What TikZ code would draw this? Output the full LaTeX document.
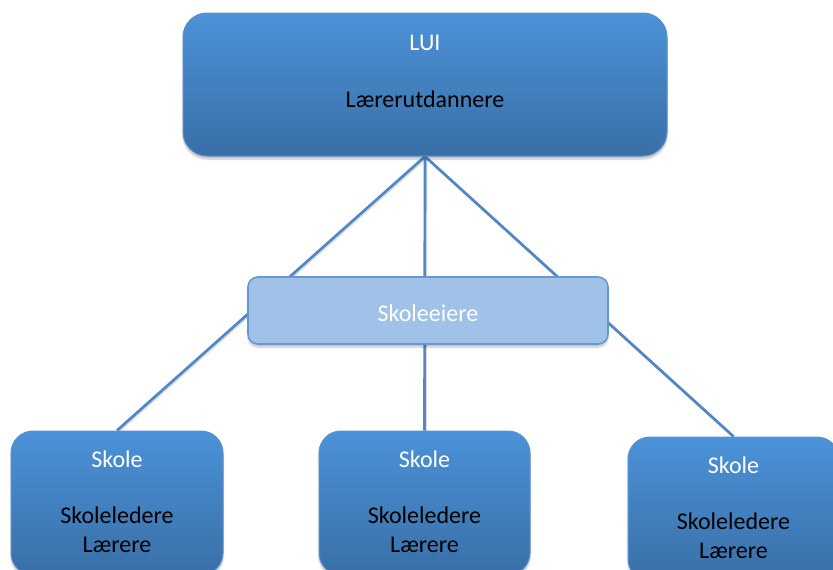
\documentclass[tikz,border=0pt]{standalone}
\usepackage{fontspec}
\setmainfont{Carlito}
\usetikzlibrary{backgrounds,shadows.blur}

\definecolor{boxtop}{RGB}{75,146,216}
\definecolor{boxbot}{RGB}{57,111,167}
\definecolor{boxline}{RGB}{92,144,204}
\definecolor{ownerfill}{RGB}{160,194,233}
\definecolor{ownerline}{RGB}{104,152,208}
\definecolor{linkcol}{RGB}{80,135,198}

\tikzset{
  bluebox/.style={shade, top color=boxtop, bottom color=boxbot,
    draw=boxline, line width=1pt, inner sep=0pt,
    blur shadow={shadow xshift=0pt, shadow yshift=-3pt, shadow blur steps=6, shadow opacity=25}},
  ownerbox/.style={fill=ownerfill, draw=ownerline, line width=1.6pt,
    rounded corners=10pt, inner sep=0pt,
    blur shadow={shadow xshift=0pt, shadow yshift=-3pt, shadow blur steps=6, shadow opacity=25}},
  label/.style={anchor=base, inner sep=0pt, font=\fontsize{24}{28.5}\selectfont, align=center},
  link/.style={draw=linkcol, line width=2.7pt},
  linkshadow/.style={draw=black, opacity=0.12, line width=2.7pt, transform canvas={xshift=1.2pt, yshift=-1.2pt}},
}

\begin{document}
\begin{tikzpicture}[x=1pt,y=-1pt]
\useasboundingbox (0,0) rectangle (833,570);
\clip (0,0) rectangle (833,570);

% top box
\node[bluebox, rounded corners=24pt, minimum width=484pt, minimum height=143pt] (lui) at (425,84.5) {};
\node[label, text=white] (luiname) at (425,50) {LUI};
\node[label, text=black] (luitext) at (425,107) {Lærerutdannere};

% school boxes
\node[bluebox, rounded corners=22pt, minimum width=212pt, minimum height=144pt] (s1) at (117,503) {};
\node[bluebox, rounded corners=22pt, minimum width=211pt, minimum height=144pt] (s2) at (424.5,503) {};
\node[bluebox, rounded corners=22pt, minimum width=211pt, minimum height=144pt] (s3) at (733.5,509) {};

\node[label, text=white] (s1name) at (117,467) {Skole};
\node[label, text=black] (s1text) at (117,552) {Skoleledere\\Lærere};
\node[label, text=white] (s2name) at (424.5,467) {Skole};
\node[label, text=black] (s2text) at (424.5,552) {Skoleledere\\Lærere};
\node[label, text=white] (s3name) at (733.5,473) {Skole};
\node[label, text=black] (s3text) at (733.5,558) {Skoleledere\\Lærere};

% owner box
\node[ownerbox, minimum width=360pt, minimum height=67pt] (owner) at (428,310.5) {};
\node[label, text=white] (ownername) at (428,321) {Skoleeiere};

% connectors behind the boxes
\begin{scope}[on background layer]
  \foreach \s in {s1,s2,s3} {
    \draw[linkshadow] (lui.south) -- (\s.north);
    \draw[link] (lui.south) -- (\s.north);
  }
\end{scope}
\end{tikzpicture}
\end{document}
